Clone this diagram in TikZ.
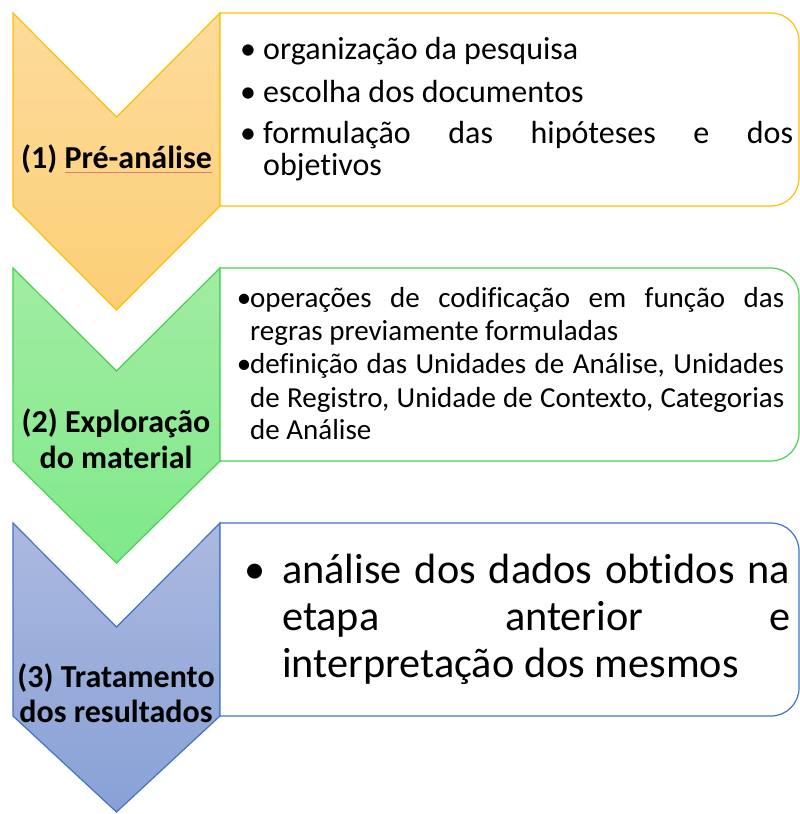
\documentclass[tikz,border=0pt]{standalone}
\usepackage{fontspec}
\setmainfont{Carlito}[Ligatures=NoCommon]
\definecolor{orTop}{RGB}{253,219,156}
\definecolor{orBot}{RGB}{252,207,118}
\definecolor{orLine}{RGB}{255,192,0}
\definecolor{grTop}{RGB}{162,236,162}
\definecolor{grBot}{RGB}{127,233,138}
\definecolor{grLine}{RGB}{70,210,80}
\definecolor{blTop}{RGB}{171,185,223}
\definecolor{blBot}{RGB}{136,161,214}
\definecolor{blLine}{RGB}{68,114,196}
\definecolor{squig}{RGB}{232,120,100}
\begin{document}
\begin{tikzpicture}[x=1pt,y=1pt,line join=miter,
  chev/.style={line width=1.2pt},
  boxsh/.style={line width=1.2pt,fill=white},
  txt/.style={inner sep=0pt,anchor=base west},
  bul/.style={inner sep=0pt,anchor=base},
  lab/.style={inner sep=0pt,anchor=base,font=\fontsize{32}{36}\selectfont\bfseries},
  fA/.style={font=\fontsize{32}{36}\selectfont},
  fB/.style={font=\fontsize{29}{34}\selectfont},
  fC/.style={font=\fontsize{42.3}{48}\selectfont}]
\useasboundingbox (0,0) rectangle (800,-814);
% chevrons
\shadedraw[chev,top color=orTop,bottom color=orBot,draw=orLine]
  (13,-13) -- (116.5,-117) -- (220,-13) -- (220,-206) -- (116.5,-310) -- (13,-206) -- cycle;
\shadedraw[chev,top color=grTop,bottom color=grBot,draw=grLine]
  (13,-268) -- (116.5,-371) -- (220,-268) -- (220,-461) -- (116.5,-563) -- (13,-461) -- cycle;
\shadedraw[chev,top color=blTop,bottom color=blBot,draw=blLine]
  (13,-523) -- (116.5,-627) -- (220,-523) -- (220,-716) -- (116.5,-812) -- (13,-716) -- cycle;
% boxes
\draw[boxsh,draw=orLine] (220,-13) -- (771,-13) arc[start angle=90,end angle=0,radius=28pt]
  -- (799,-178) arc[start angle=0,end angle=-90,radius=28pt] -- (220,-206) -- cycle;
\draw[boxsh,draw=grLine] (220,-268) -- (771,-268) arc[start angle=90,end angle=0,radius=28pt]
  -- (799,-433) arc[start angle=0,end angle=-90,radius=28pt] -- (220,-461) -- cycle;
\draw[boxsh,draw=blLine] (220,-523) -- (771,-523) arc[start angle=90,end angle=0,radius=28pt]
  -- (799,-688) arc[start angle=0,end angle=-90,radius=28pt] -- (220,-716) -- cycle;
% labels
\node[lab] (l1) at (116.5,-168) {(1) Pré-análise};
\draw[squig,line width=0.8pt] (65,-172) -- (212,-172);
\node[lab] (l2a) at (116,-432) {(2) Exploração};
\node[lab] (l2b) at (116,-468) {do material};
\node[lab] (l3a) at (116,-687) {(3) Tratamento};
\node[lab] (l3b) at (116,-722) {dos resultados};
% box 1
\node[bul,fA] (k1a) at (248,-59) {•};
\node[txt,fA] (b1a) at (263,-59) {organização da pesquisa};
\node[bul,fA] (k1b) at (248,-102) {•};
\node[txt,fA] (b1b) at (263,-102) {escolha dos documentos};
\node[bul,fA] (k1c) at (248,-143) {•};
\node[txt,fA] (b1c) at (263,-143) {\hbox to 530pt{formulação\hfill das\hfill hipóteses\hfill e\hfill dos}};
\node[txt,fA] (b1d) at (263,-175) {objetivos};
% box 2
\node[bul,fB] (k2a) at (244,-307) {•};
\node[txt,fB] (b2a) at (250,-307) {\hbox to 534pt{operações\hfill de\hfill codificação\hfill em\hfill função\hfill das}};
\node[txt,fB] (b2b) at (250,-340) {regras previamente formuladas};
\node[bul,fB] (k2c) at (244,-373) {•};
\node[txt,fB] (b2c) at (250,-373) {\hbox to 534pt{definição\hfill das\hfill Unidades\hfill de\hfill Análise,\hfill Unidades}};
\node[txt,fB] (b2d) at (250,-407) {\hbox to 534pt{de\hfill Registro,\hfill Unidade\hfill de\hfill Contexto,\hfill Categorias}};
\node[txt,fB] (b2e) at (250,-439) {de Análise};
% box 3
\node[bul,fC] (k3a) at (255,-583) {•};
\node[txt,fC] (b3a) at (282,-583) {\hbox to 508pt{análise\hfill dos\hfill dados\hfill obtidos\hfill na}};
\node[txt,fC] (b3b) at (282,-630) {\hbox to 508pt{etapa\hfill anterior\hfill e}};
\node[txt,fC] (b3c) at (282,-677) {interpretação dos mesmos};
\end{tikzpicture}
\end{document}
